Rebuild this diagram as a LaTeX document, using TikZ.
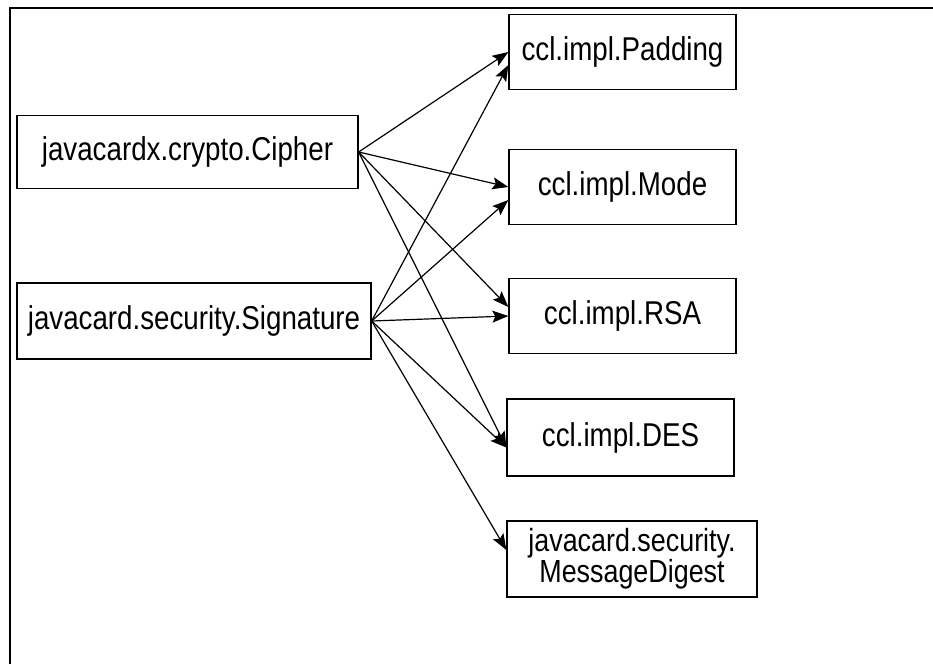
\documentclass[tikz,border=0pt]{standalone}
\usepackage{fontspec}
\setmainfont[FakeStretch=0.84]{Liberation Sans}
\usetikzlibrary{arrows.meta, positioning}
\tikzset{every node/.append style={align=center, inner sep=3pt}}

\begin{document}
\begin{tikzpicture}[x=1pt, y=-1pt, font=\fontsize{33}{36}\selectfont,
    cls/.style={rectangle, draw=black, line width=1.3pt, minimum width=227pt, minimum height=75pt},
    a/.style={-{Stealth[length=16pt, width=12pt, inset=3pt]}, line width=1.2pt, black}]
\useasboundingbox (0,0) rectangle (933,664);
\draw[line width=2pt] (10,664) -- (10,8) -- (933,8);
% API classes
\node[cls, minimum width=341pt, minimum height=73pt] (cipher) at (187.5,152) {javacardx.crypto.Cipher};
\node[cls, minimum width=354pt, minimum height=76pt] (sig) at (194,321) {javacard.security.Signature};
% implementation classes
\node[cls] (pad) at (622.5,52) {ccl.impl.Padding};
\node[cls] (mode) at (622.5,187) {ccl.impl.Mode};
\node[cls] (rsa) at (622.5,316) {ccl.impl.RSA};
\node[cls, minimum height=77pt] (des) at (620.5,437.5) {ccl.impl.DES};
\node[cls, minimum width=250pt, minimum height=76pt, inner sep=0pt, font=\fontsize{32}{31}\selectfont] (md) at (632,559)
    {javacard.security.\\MessageDigest};
\draw[a] (cipher.east) -- (pad.west);
\draw[a] (cipher.east) -- (mode.west);
\draw[a] (cipher.east) -- ([yshift=9pt]rsa.west);
\draw[a] (cipher.east) -- ([yshift=-10pt]des.west);
\draw[a] (sig.east) -- ([yshift=-13pt]pad.west);
\draw[a] (sig.east) -- ([yshift=-13pt]mode.west);
\draw[a] (sig.east) -- (rsa.west);
\draw[a] (sig.east) -- ([yshift=-10pt]des.west);
\draw[a] (sig.east) -- ([yshift=9pt]md.west);
\end{tikzpicture}
\end{document}
